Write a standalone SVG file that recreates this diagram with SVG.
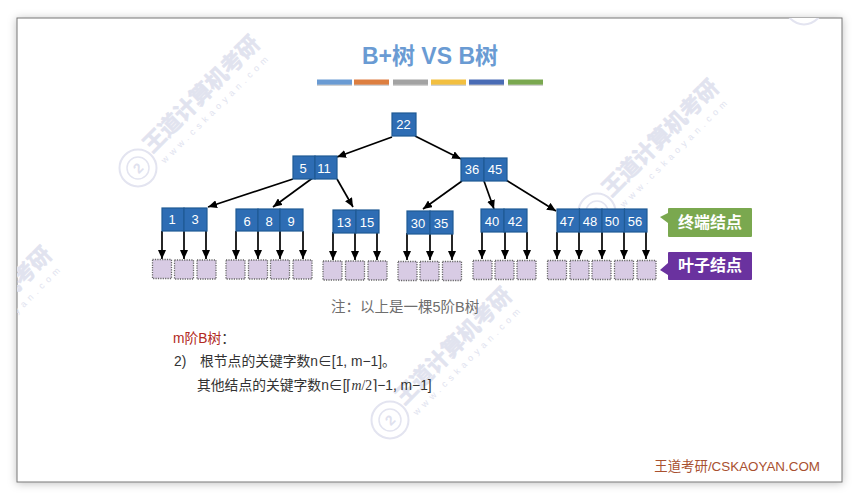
<svg xmlns="http://www.w3.org/2000/svg" width="859" height="500" viewBox="0 0 859 500">
<defs>
<marker id="ah" markerUnits="userSpaceOnUse" markerWidth="9" markerHeight="8" refX="9" refY="4" orient="auto"><path d="M0 0L9 4L0 8Z" fill="#000"/></marker>
<filter id="sh" x="-10%" y="-10%" width="120%" height="120%"><feDropShadow dx="0" dy="1" stdDeviation="4" flood-color="#000" flood-opacity=".25"/></filter>
<filter id="bs" x="-5%" y="-50%" width="110%" height="250%"><feDropShadow dx="0" dy="1" stdDeviation=".6" flood-color="#000" flood-opacity=".35"/></filter>
<clipPath id="fr"><rect x="17" y="18" width="825" height="464"/></clipPath>
<g id="wm">
<g fill="#e1e3ef">
<text x="20" y="0" font-size="22" font-weight="700" stroke="#e1e3ef" stroke-width=".6" class="f">王道计算机考研</text>
<text x="22" y="16" font-size="9" letter-spacing="4.5" class="f">www.cskaoyan.com</text>
</g>
<circle cx="0" cy="0" r="18.500" fill="#fff" stroke="#e3e4f0" stroke-width="2"/>
<circle cx="0" cy="0" r="11" fill="none" stroke="#e3e4f0" stroke-width="1.500"/>
<text x="0" y="5" font-size="14" font-weight="700" text-anchor="middle" fill="#dfe1ee" class="f">2</text>
</g>
</defs>
<style>
.f{font-family:"Liberation Sans","Noto Sans CJK SC",sans-serif}
.k{fill:#2e6db4;stroke:#1f5a94;stroke-width:1.2}
.n{font-family:"Liberation Sans",sans-serif;font-size:13px;fill:#fff;text-anchor:middle}
.l{fill:#d8cbe4;stroke:#666;stroke-width:1.3;stroke-dasharray:1.2 1.2}
.c{stroke:#000;stroke-width:1.7;fill:none;marker-end:url(#ah)}
.t{font-family:"Liberation Sans","Noto Sans CJK SC",sans-serif;font-size:13.8px;fill:#333}
.b{font-family:"Liberation Sans","Noto Sans CJK SC",sans-serif;font-size:16px;font-weight:700;fill:#fff;text-anchor:middle}
</style>
<rect width="859" height="500" fill="#fff"/>
<rect x="17" y="18" width="825" height="464" fill="#fff" stroke="#777" stroke-width="1" filter="url(#sh)"/>
<g id="watermarks" clip-path="url(#fr)">
<use href="#wm" transform="translate(138 168) rotate(-45)"/>
<use href="#wm" transform="translate(597 212) rotate(-45)"/>
<use href="#wm" transform="translate(390 420) rotate(-45)"/>
<use href="#wm" transform="translate(-70 379) rotate(-45)"/>
<use href="#wm" transform="translate(804 6) rotate(-45)"/>
</g>
<g id="title">
<text x="430" y="64" font-size="23" font-weight="700" fill="#6a9bd3" text-anchor="middle" class="f">B+树 VS B树</text>
<g filter="url(#bs)">
<rect x="317" y="79.500" width="35" height="5" fill="#6a9bd3"/>
<rect x="354" y="79.500" width="35" height="5" fill="#dd7f41"/>
<rect x="393" y="79.500" width="35" height="5" fill="#a3a3a3"/>
<rect x="431" y="79.500" width="35" height="5" fill="#f2bf3f"/>
<rect x="469" y="79.500" width="35" height="5" fill="#4a6cb5"/>
<rect x="508" y="79.500" width="35" height="5" fill="#7aa84f"/>
</g>
</g>
<g id="connectors">
<path class="c" d="M392 137L337 157"/>
<path class="c" d="M415 136L461 159"/>
<path class="c" d="M293 179L208 207"/>
<path class="c" d="M314 177L273 207"/>
<path class="c" d="M337 179L353 207"/>
<path class="c" d="M462 181L423 209"/>
<path class="c" d="M484 181L494 209"/>
<path class="c" d="M506 180L556 211"/>
<path class="c" d="M162 231V259"/><path class="c" d="M184 231V259"/><path class="c" d="M206 231V259"/>
<path class="c" d="M236 231V259"/><path class="c" d="M258 231V259"/><path class="c" d="M280 231V259"/><path class="c" d="M303 231V259"/>
<path class="c" d="M333 232V260"/><path class="c" d="M355 232V260"/><path class="c" d="M377 232V260"/>
<path class="c" d="M407 233V260"/><path class="c" d="M430 233V260"/><path class="c" d="M452 233V260"/>
<path class="c" d="M482 232V259"/><path class="c" d="M505 232V259"/><path class="c" d="M527 232V259"/>
<path class="c" d="M557 232V259"/><path class="c" d="M579 232V259"/><path class="c" d="M602 232V259"/><path class="c" d="M624 232V259"/><path class="c" d="M646 232V259"/>
</g>
<g id="n22"><rect class="k" x="392" y="113" width="24" height="23"/><text class="n" x="403.500" y="129">22</text></g>
<g id="n5-11"><rect class="k" x="293" y="156" width="22" height="23"/><rect class="k" x="315" y="156" width="22" height="23"/><text class="n" x="303" y="173">5</text><text class="n" x="324" y="173">11</text></g>
<g id="n36-45"><rect class="k" x="461" y="158" width="23" height="23"/><rect class="k" x="484" y="158" width="23" height="23"/><text class="n" x="472" y="174">36</text><text class="n" x="495" y="174">45</text></g>
<g id="n1-3"><rect class="k" x="162" y="208" width="22" height="23"/><rect class="k" x="184" y="208" width="23" height="23"/><text class="n" x="172" y="224">1</text><text class="n" x="195" y="224">3</text></g>
<g id="n6-8-9"><rect class="k" x="236" y="209" width="22" height="22"/><rect class="k" x="258" y="209" width="22" height="22"/><rect class="k" x="280" y="209" width="23" height="22"/><text class="n" x="247" y="225.500">6</text><text class="n" x="269" y="225.500">8</text><text class="n" x="291" y="225.500">9</text></g>
<g id="n13-15"><rect class="k" x="333" y="210" width="23" height="23"/><rect class="k" x="356" y="210" width="23" height="23"/><text class="n" x="344" y="227">13</text><text class="n" x="367" y="227">15</text></g>
<g id="n30-35"><rect class="k" x="407" y="211" width="23" height="23"/><rect class="k" x="430" y="211" width="23" height="23"/><text class="n" x="418" y="228">30</text><text class="n" x="441" y="228">35</text></g>
<g id="n40-42"><rect class="k" x="481" y="209" width="23" height="23"/><rect class="k" x="504" y="209" width="23" height="23"/><text class="n" x="492" y="226">40</text><text class="n" x="515" y="226">42</text></g>
<g id="n47-56"><rect class="k" x="557" y="209" width="22.500" height="23"/><rect class="k" x="579.500" y="209" width="22.500" height="23"/><rect class="k" x="602" y="209" width="22.500" height="23"/><rect class="k" x="624.500" y="209" width="22.500" height="23"/><text class="n" x="567" y="226">47</text><text class="n" x="590" y="226">48</text><text class="n" x="612" y="226">50</text><text class="n" x="635" y="226">56</text></g>
<g id="leaves">
<rect class="l" x="152.500" y="259.500" width="19" height="19"/><rect class="l" x="174.500" y="260" width="19" height="19"/><rect class="l" x="197" y="260" width="19" height="19"/>
<rect class="l" x="226" y="260" width="19" height="19"/><rect class="l" x="248.500" y="260" width="19" height="19"/><rect class="l" x="270.500" y="260" width="19" height="19"/><rect class="l" x="293" y="260" width="19" height="19"/>
<rect class="l" x="323" y="261" width="19" height="19"/><rect class="l" x="345.500" y="261" width="19" height="19"/><rect class="l" x="368" y="261" width="19" height="19"/>
<rect class="l" x="398" y="261.500" width="19" height="19"/><rect class="l" x="420" y="261.500" width="19" height="19"/><rect class="l" x="442.500" y="261.500" width="19" height="19"/>
<rect class="l" x="473" y="260.500" width="19" height="19"/><rect class="l" x="495" y="260.500" width="19" height="19"/><rect class="l" x="517" y="260.500" width="19" height="19"/>
<rect class="l" x="547.500" y="260.500" width="19" height="19"/><rect class="l" x="570" y="260.500" width="19" height="19"/><rect class="l" x="592" y="260.500" width="19" height="19"/><rect class="l" x="614.500" y="260.500" width="19" height="19"/><rect class="l" x="637" y="260.500" width="19" height="19"/>
</g>
<g id="callout-terminal"><path d="M669 208H751Q752 208 752 209V236Q752 237 751 237H669Q668 237 668 236V223L660 217L668 213V209Q668 208 669 208Z" fill="#7aa84f"/><text class="b" x="710" y="228">终端结点</text></g>
<g id="callout-leaf"><path d="M669 252H751Q752 252 752 253V279Q752 280 751 280H669Q668 280 668 279V275L660 270L668 263V253Q668 252 669 252Z" fill="#6a329f"/><text class="b" x="710" y="271">叶子结点</text></g>
<text class="f" x="331" y="312" font-size="14.500" fill="#6e6e6e">注：以上是一棵5阶B树</text>
<text class="t" x="173" y="343" style="fill:#b22a22">m阶B树<tspan fill="#333">：</tspan></text>
<text class="t" x="174" y="366">2)</text>
<text class="t" x="200" y="366">根节点的关键字数n∈[1, m−1]。</text>
<text class="t" x="197" y="390">其他结点的关键字数n∈[⌈<tspan font-family="Liberation Serif" font-style="italic">m</tspan><tspan font-family="Liberation Serif">/2</tspan>⌉−1, m−1]</text>
<text class="f" x="820" y="471" font-size="13.400" fill="#a8502f" text-anchor="end">王道考研/CSKAOYAN.COM</text>
</svg>
